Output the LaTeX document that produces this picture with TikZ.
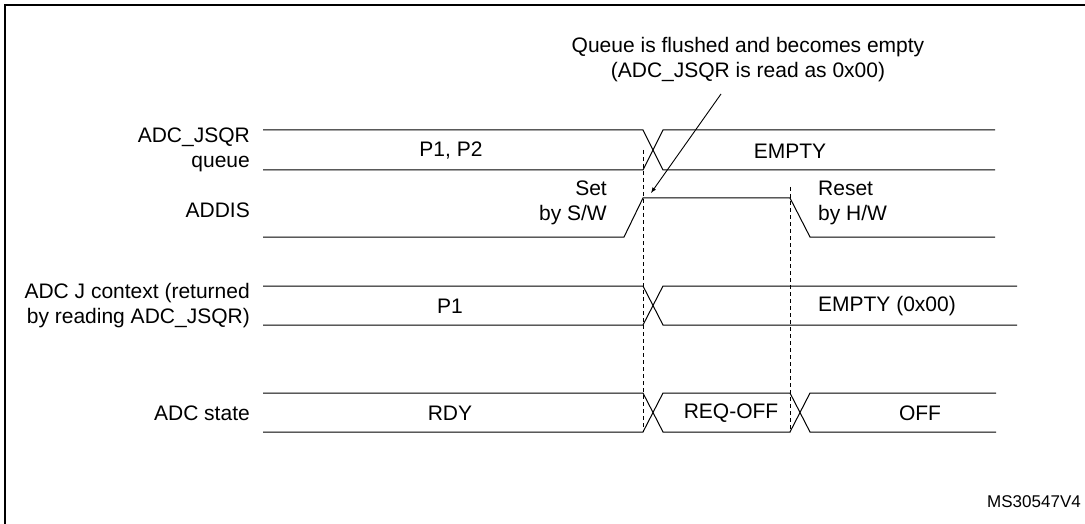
\documentclass[tikz,border=0pt]{standalone}
\usepackage{fontspec}
\setmainfont{Liberation Sans}
\begin{document}
\begin{tikzpicture}[x=1pt,y=-1pt,
  sig/.style={line width=1pt},
  lbl/.style={font=\fontsize{21}{25}\selectfont, inner sep=0pt},
  dashln/.style={line width=0.9pt, dash pattern=on 4pt off 3pt}]
\useasboundingbox (0,0) rectangle (1085,524);
\draw[line width=1.8pt] (5,530) -- (5,5) -- (1090,5);
% row 1
\draw[sig] (263,130) -- (643,130) -- (663,170) -- (995,170);
\draw[sig] (263,170) -- (643,170) -- (663,130) -- (995,130);
% row 2
\draw[sig] (263,237) -- (624,237) -- (643,198) -- (790,198) -- (810,237) -- (995,237);
% row 3
\draw[sig] (263,286) -- (643,286) -- (663,325) -- (1017,325);
\draw[sig] (263,325) -- (643,325) -- (663,286) -- (1017,286);
% row 4
\draw[sig] (263,393) -- (643,393) -- (663,432) -- (790,432) -- (810,393) -- (996,393);
\draw[sig] (263,432) -- (643,432) -- (663,393) -- (790,393) -- (810,432) -- (996,432);
% dashed
\coordinate (d1t) at (643,150); \coordinate (d1b) at (643,432);
\coordinate (d2t) at (790,187); \coordinate (d2b) at (790,432);
\draw[dashln] (d1t) -- (d1b);
\draw[dashln] (d2t) -- (d2b);
% labels
\node[lbl,anchor=east,align=right] (l1) at (250,150) {ADC\_JSQR\\queue};
\node[lbl,anchor=east] (l2) at (250,210) {ADDIS};
\node[lbl,anchor=east,align=right] (l3) at (250,306) {ADC J context (returned\\by reading ADC\_JSQR)};
\node[lbl,anchor=east] (l4) at (250,413) {ADC state};
\node[lbl] (p12) at (451,151) {P1, P2};
\node[lbl] (em) at (790,151) {EMPTY};
\node[lbl,anchor=east,align=right] (set) at (607,203) {Set\\by S/W};
\node[lbl,anchor=west,align=left] (rst) at (818,203) {Reset\\by H/W};
\node[lbl] (p1) at (450,306) {P1};
\node[lbl] (em2) at (887,306) {EMPTY (0x00)};
\node[lbl] (rdy) at (450,413) {RDY};
\node[lbl] (rq) at (731,413) {REQ-OFF};
\node[lbl] (off) at (920,413) {OFF};
\node[lbl,align=center] (note) at (748,60) {Queue is flushed and becomes empty\\(ADC\_JSQR is read as 0x00)};
\node[font=\fontsize{17}{20}\selectfont,inner sep=0pt,anchor=east] (ms) at (1081,502) {MS30547V4};
\coordinate (atip) at (651,193);
\draw[line width=0.9pt,-latex] (721,94) -- (atip);
\end{tikzpicture}
\end{document}
